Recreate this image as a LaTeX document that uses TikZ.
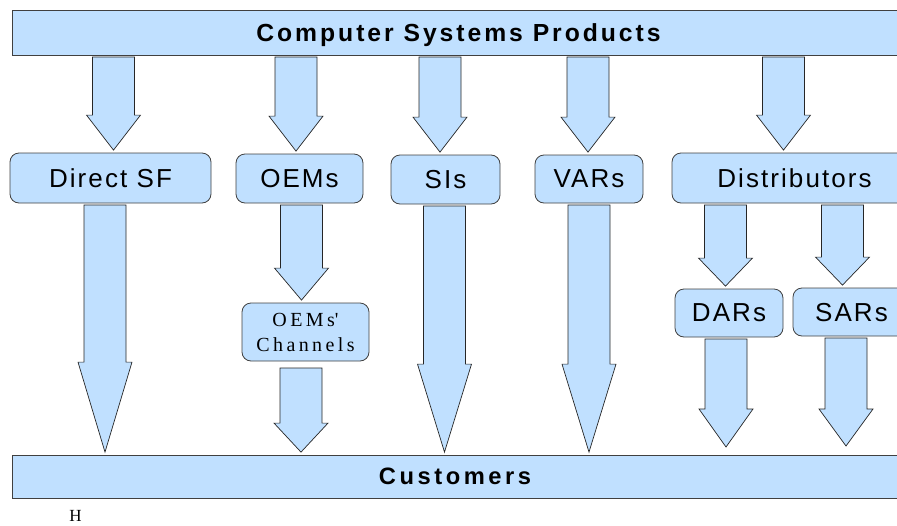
\documentclass[tikz,border=0pt]{standalone}
\usepackage{fontspec}
\setmainfont{Liberation Serif}
\setsansfont{Liberation Sans}
\newfontfamily\lblfont[LetterSpace=8]{Liberation Sans}
\newfontfamily\barfont[LetterSpace=12]{Liberation Sans}
\newfontfamily\custfont[LetterSpace=15]{Liberation Sans}
\newfontfamily\chanfont[LetterSpace=17]{Liberation Serif}
\usetikzlibrary{calc}
\definecolor{boxblue}{RGB}{192,224,255}

\begin{document}
\begin{tikzpicture}[x=1pt, y=-1pt]
    \tikzstyle{bar}=[draw=black!75, line width=0.8pt, fill=boxblue, inner sep=0pt, text depth=0pt]
    \tikzstyle{bbox}=[bar, rounded corners=9pt, font=\lblfont\fontsize{26}{30}\selectfont]
    \tikzstyle{fatarr}=[draw=black!85, line width=0.7pt, fill=boxblue]
    % block arrow: start, tip, head length
    \def\darrow#1#2#3{%
        \filldraw[fatarr] let \p1=#1, \p2=#2 in
            (\x1-21pt,\y1-1.5pt) -- (\x1+21pt,\y1-1.5pt)
            -- (\x1+21pt,\y2+2.5pt+#3pt) -- (\x1+27pt,\y2+2.5pt+#3pt)
            -- (\x1,\y2+2.5pt)
            -- (\x1-27pt,\y2+2.5pt+#3pt) -- (\x1-21pt,\y2+2.5pt+#3pt) -- cycle;}

    \useasboundingbox (0,0) rectangle (897,525);
    \clip (0,0) rectangle (897,525);

    \node[bar, minimum width=893pt, minimum height=45pt, font=\barfont\bfseries\fontsize{24.7}{30}\selectfont] (top) at (458.5,32.5) {Computer Systems Products};
    \node[bar, minimum width=886pt, minimum height=43pt, font=\custfont\bfseries\fontsize{23.7}{28}\selectfont] (cust) at (455,476.5) {Customers};

    \node[bbox, minimum width=201pt, minimum height=50pt] (dsf) at (110.5,178) {Direct SF};
    \node[bbox, minimum width=127pt, minimum height=49pt] (oem) at (299.5,178.5) {OEMs};
    \node[bbox, minimum width=109pt, minimum height=49pt] (si) at (445.5,179.5) {SIs};
    \node[bbox, minimum width=108pt, minimum height=48pt] (var) at (589,179) {VARs};
    \node[bbox, minimum width=245pt, minimum height=50pt] (dist) at (794.5,178) {Distributors};
    \node[bbox, minimum width=108pt, minimum height=48pt] (dar) at (729,313) {DARs};
    \node[bbox, minimum width=117pt, minimum height=48pt] (sar) at (851.5,312) {SARs};
    \node[bbox, minimum width=127pt, minimum height=58pt, align=center,
          font=\chanfont\fontsize{20}{25}\selectfont] (chan) at (305.5,332) {OEMs\textquotesingle\\Channels};

    \node[font=\fontsize{17}{19}\selectfont, inner sep=0pt] (hmark) at (75.5,515.5) {H};

    % arrow columns
    \foreach \n/\x in {a1/113.5, a2/296, a3/440, a4/588, a5/783.5,
                       b1/105, b2/301.5, b4/444.5, b5/589, b6/725.5, b7/842.5} {
        \coordinate (\n) at (\x,0);
    }
    \coordinate (b3) at (301,366.5);
    \coordinate (b8) at (726,449.5);
    \coordinate (b9) at (846,448.5);

    \foreach \c/\t in {a1/dsf, a2/oem, a3/si, a4/var, a5/dist} {
        \darrow{(top.south -| \c)}{(\t.north -| \c)}{35}
    }
    \darrow{(dsf.south -| b1)}{(cust.north -| b1)}{90}
    \darrow{(oem.south -| b2)}{(chan.north -| b2)}{32}
    \darrow{(b3)}{(cust.north -| b3)}{29}
    \darrow{(si.south -| b4)}{(cust.north -| b4)}{88}
    \darrow{(var.south -| b5)}{(cust.north -| b5)}{88}
    \darrow{(dist.south -| b6)}{(dar.north -| b6)}{28}
    \darrow{(dist.south -| b7)}{(sar.north -| b7)}{28}
    \darrow{(dar.south -| b8)}{(b8)}{38}
    \darrow{(sar.south -| b9)}{(b9)}{37}
\end{tikzpicture}
\end{document}
